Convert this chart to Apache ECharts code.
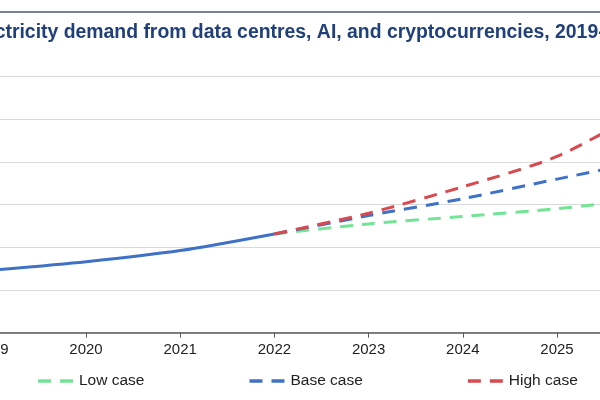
<!DOCTYPE html>
<html>
<head>
<meta charset="utf-8">
<script src="https://cdn.jsdelivr.net/npm/echarts@6/dist/echarts.min.js"></script>
<style>
html,body{margin:0;padding:0;background:#fff;}
#c{width:600px;height:400px;}
</style>
</head>
<body>
<div id="c"></div>
<script>
// Data (TWh)
const years = ['2019', '2020', '2021', '2022', '2023', '2024', '2025', '2026'];
const historical = [293, 333, 385, 463, null, null, null, null];
const lowCase = [null, null, null, 463, 510, 545, 581, 630];
const baseCase = [null, null, null, 463, 549, 628, 720, 810];
const highCase = [null, null, null, 463, 560, 684, 826, 1060];
const titleText = 'Global electricity demand from data centres, AI, and cryptocurrencies, 2019-2026';

const FONT = 'Liberation Sans, Arial, Helvetica, sans-serif';
const DASH_ICON = 'path://M0,0 H13 V3.5 H0 Z M22,0 H35 V3.5 H22 Z';
const chart = echarts.init(document.getElementById('c'), null, {renderer: 'canvas'});

function dashed(name, data, color) {
  return {
    name: name, type: 'line', data: data, symbol: 'none', smooth: 0.25,
    lineStyle: {color: color, width: 3, type: [13, 9], cap: 'butt'},
    itemStyle: {color: color},
    z: 3
  };
}

chart.setOption({
  backgroundColor: '#ffffff',
  animation: false,
  title: {
    text: titleText,
    left: -103, top: 18,
    textStyle: {fontFamily: FONT, fontSize: 19.4, fontWeight: 'bold', color: '#21407a'}
  },
  graphic: [{
    type: 'line', shape: {x1: 0, y1: 12, x2: 600, y2: 12},
    style: {stroke: '#4b5670', lineWidth: 1.6}
  }],
  legend: {
    data: ['Low case', 'Base case', 'High case'],
    icon: DASH_ICON,
    padding: 0,
    left: 38, top: 373, itemGap: 105, itemWidth: 35, itemHeight: 3.5,
    textStyle: {fontFamily: FONT, fontSize: 15.5, color: '#222', padding: [0, 0, 0, 1]}
  },
  grid: {left: -8.2, right: -51.2, top: 76.7, bottom: 67.3, containLabel: false, outerBoundsMode: 'none'},
  xAxis: {
    type: 'category', data: years, boundaryGap: false,
    axisLine: {lineStyle: {color: '#5a5a5a', width: 1.6}},
    axisTick: {show: true, length: 5, lineStyle: {color: '#5a5a5a', width: 1}},
    axisLabel: {fontFamily: FONT, fontSize: 15, color: '#222', margin: 10},
    splitLine: {show: false}
  },
  yAxis: {
    type: 'value', min: 0, max: 1200, interval: 200,
    axisLine: {show: false}, axisTick: {show: false},
    axisLabel: {show: false},
    splitLine: {lineStyle: {color: '#d9d9d9', width: 1}}
  },
  series: [
    {
      name: 'Historical', type: 'line', data: historical, symbol: 'none', smooth: 0.25,
      lineStyle: {color: '#3f72c6', width: 3}, itemStyle: {color: '#3f72c6'}, z: 2
    },
    dashed('Low case', lowCase, '#72e495'),
    dashed('Base case', baseCase, '#3f72c6'),
    dashed('High case', highCase, '#d84a4f')
  ]
});
</script>
</body>
</html>
